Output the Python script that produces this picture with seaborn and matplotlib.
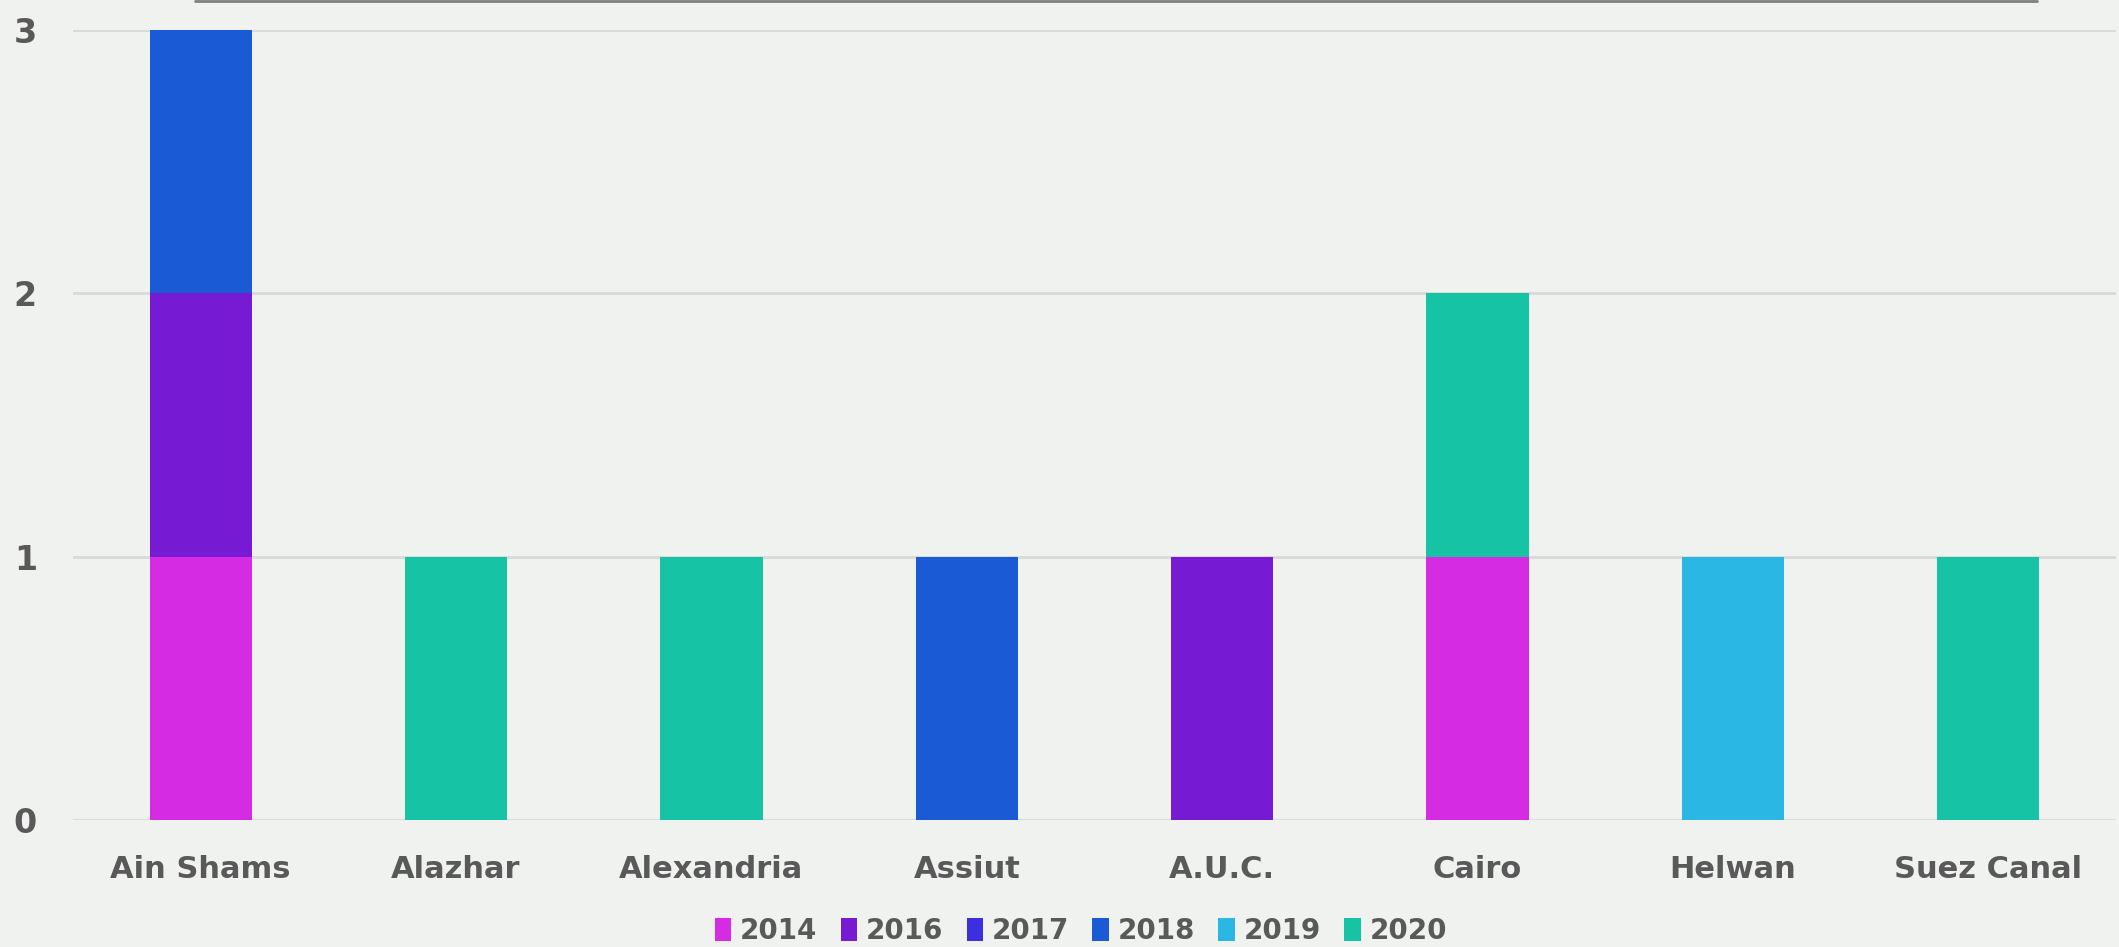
import pandas as pd
import matplotlib.pyplot as plt
import seaborn as sns
from matplotlib.patches import Patch
from matplotlib.lines import Line2D

# Chart data
universities = ['Ain Shams', 'Alazhar', 'Alexandria', 'Assiut', 'A.U.C.', 'Cairo', 'Helwan', 'Suez Canal']
years = ['2014', '2016', '2017', '2018', '2019', '2020']
counts_2014 = [1, 0, 0, 0, 0, 1, 0, 0]
counts_2016 = [1, 0, 0, 0, 1, 0, 0, 0]
counts_2017 = [0, 0, 0, 0, 0, 0, 0, 0]
counts_2018 = [1, 0, 0, 1, 0, 0, 0, 0]
counts_2019 = [0, 0, 0, 0, 0, 0, 1, 0]
counts_2020 = [0, 1, 1, 0, 0, 1, 0, 1]
colors = ['#D42BE3', '#761AD3', '#3D2EE0', '#1A5AD4', '#2BB7E3', '#17C3A5']

series = [counts_2014, counts_2016, counts_2017, counts_2018, counts_2019, counts_2020]
rows = []
for year, vals in zip(years, series):
    for uni, v in zip(universities, vals):
        rows.append({'University': uni, 'Year': year, 'Count': v})
df = pd.DataFrame(rows)
df['University'] = pd.Categorical(df['University'], categories=universities, ordered=True)
df['x'] = df['University'].cat.codes

bg = '#F0F2EF'
text_color = '#595959'

sns.set_style('white')
plt.rcParams['font.family'] = ['DejaVu Sans']

fig = plt.figure(figsize=(21.19, 9.47), dpi=100, facecolor=bg)
ax = fig.add_axes([73 / 2119, 1 - 820 / 947, (2116 - 73) / 2119, (820 - 30) / 947])
ax.set_facecolor(bg)

# seaborn puts the first hue level on top, so reverse to get 2014 at the bottom
sns.histplot(data=df, x='x', hue='Year', weights='Count', multiple='stack',
             discrete=True, shrink=0.4, hue_order=years[::-1], palette=colors[::-1],
             linewidth=0, alpha=1, legend=False, ax=ax)

ax.set_xlim(-0.5, len(universities) - 0.5)
ax.set_ylim(0, 3)
ax.set_xticks(range(len(universities)))
ax.set_xticklabels(universities)
ax.set_yticks([0, 1, 2, 3])
ax.set_yticklabels(['0', '1', '2', '3'])
ax.set_xlabel('')
ax.set_ylabel('')
ax.yaxis.grid(True, color='#D9D9D9', linewidth=2)
ax.set_axisbelow(True)
for s in ax.spines.values():
    s.set_visible(False)
ax.tick_params(axis='x', length=0, pad=25, labelsize=22, labelcolor=text_color)
ax.tick_params(axis='y', length=0, pad=26, labelsize=24, labelcolor=text_color)
for lab in ax.get_xticklabels() + ax.get_yticklabels():
    lab.set_fontweight('bold')

# Legend
handles = [Patch(facecolor=c, edgecolor='none', label=y) for y, c in zip(years, colors)]
fig.legend(handles=handles, loc='center', bbox_to_anchor=(0.51, 0.017), ncol=len(years),
           frameon=False, handlelength=0.6, handleheight=0.9, handletextpad=0.3,
           columnspacing=0.85, prop={'size': 20, 'weight': 'bold'}, labelcolor=text_color)

# thin line at the very top
fig.add_artist(Line2D([195 / 2119, 2037 / 2119], [1 - 1 / 947, 1 - 1 / 947],
                      color='#7F7F7F', linewidth=2))

plt.savefig('out.png', dpi=100, facecolor=bg)
plt.close()
